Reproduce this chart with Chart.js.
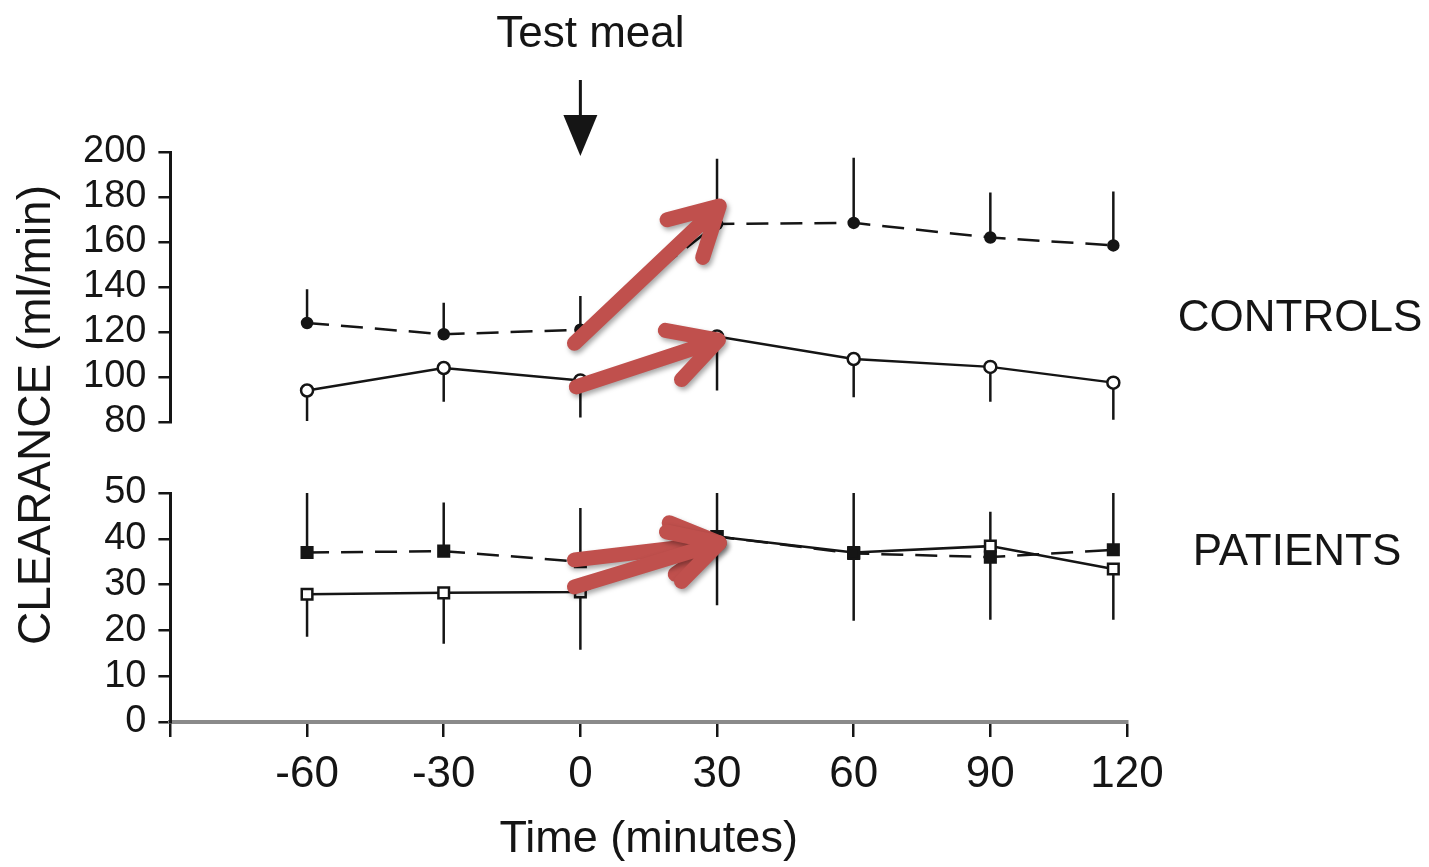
<!DOCTYPE html>
<html>
<head>
<meta charset="utf-8">
<title>Clearance after test meal</title>
<script src="https://cdn.jsdelivr.net/npm/chart.js@4.4.1/dist/chart.umd.min.js"></script>
<style>
  html, body { margin: 0; padding: 0; background: #fff; }
  #wrap { width: 1429px; height: 867px; position: relative; }
</style>
</head>
<body>
<div id="wrap"><canvas id="grafico"></canvas></div>
<script>
// sampling times, minutes relative to the test meal
const times = [-60, -30, 0, 30, 60, 90, 117];
const xTicks = [-90, -60, -30, 0, 30, 60, 90, 120];
const topTicks = [80, 100, 120, 140, 160, 180, 200];
const bottomTicks = [0, 10, 20, 30, 40, 50];

// controls, ml/min (mean and one-sided SD)
const controlsFilled = [124, 119, 121, 168, 168.5, 162, 158.5];
const controlsFilledSD = [15, 14, 15, 29, 29, 20, 24];
const controlsOpen = [94, 104, 98.5, 118, 108, 104.5, 97.5];
const controlsOpenSD = [13.5, 15, 16.5, 24, 17, 15.5, 16.5];

// patients, ml/min
const patientsFilled = [37, 37.3, 35, 40.5, 36.8, 36, 37.6];
const patientsFilledSD = [13, 10.6, 11.7, 9.5, 13.2, 9.9, 12.7];
const patientsOpen = [27.9, 28.2, 28.4, 40.5, 37, 38.4, 33.4];
const patientsOpenSD = [9.3, 11.1, 12.6, 15, 14.9, 16.1, 11.1];

// red arrows pasted over the figure: from (x, y) to (x, y), on which panel
const arrowFrom = [[-1.3, 115], [-0.9, 95.6], [-1.3, 35.4], [-1.3, 29.5]];
const arrowTo = [[30.5, 176], [30.3, 116.4], [30.5, 39.1], [30.5, 39.1]];
const arrowAxis = ['yTop', 'yTop', 'yBot', 'yBot'];

const ink = '#151515';
const font = "'Liberation Sans', Arial, sans-serif";

function points(values) {
  return values.map((v, i) => ({x: times[i], y: v}));
}

// one vertical segment per time point, separated by nulls
function errorBars(values, sd, dir) {
  const out = [];
  values.forEach((v, i) => {
    out.push({x: times[i], y: v}, {x: times[i], y: v + dir * sd[i]}, {x: times[i], y: null});
  });
  return out;
}

function errorSet(values, sd, dir, axis) {
  return {
    data: errorBars(values, sd, dir),
    yAxisID: axis,
    borderColor: ink,
    borderWidth: 2.5,
    pointRadius: 0,
    spanGaps: false
  };
}

function drawArrow(ctx, x0, y0, x1, y1) {
  const ang = Math.atan2(y1 - y0, x1 - x0);
  const head = 54, spread = 0.5;
  ctx.beginPath();
  ctx.moveTo(x0, y0);
  ctx.lineTo(x1, y1);
  ctx.moveTo(x1 - head * Math.cos(ang - spread), y1 - head * Math.sin(ang - spread));
  ctx.lineTo(x1, y1);
  ctx.lineTo(x1 - head * Math.cos(ang + spread), y1 - head * Math.sin(ang + spread));
  ctx.stroke();
}

const extras = {
  id: 'extras',
  afterDraw(chart) {
    const {ctx, scales} = chart;
    const x = scales.x;
    ctx.save();

    ctx.fillStyle = ink;
    ctx.textAlign = 'center';
    ctx.textBaseline = 'middle';
    ctx.font = '44px ' + font;
    ctx.fillText('Test meal', x.getPixelForValue(0) + 10, 35);
    ctx.fillText('CONTROLS', 1300, scales.yTop.getPixelForValue(126));
    ctx.fillText('PATIENTS', 1297, scales.yBot.getPixelForValue(37));

    // black arrow pointing at the meal time
    const mx = x.getPixelForValue(0);
    ctx.strokeStyle = ink;
    ctx.lineWidth = 3;
    ctx.beginPath();
    ctx.moveTo(mx, 80);
    ctx.lineTo(mx, 120);
    ctx.stroke();
    ctx.beginPath();
    ctx.moveTo(mx - 17, 115);
    ctx.lineTo(mx + 17, 115);
    ctx.lineTo(mx, 156);
    ctx.closePath();
    ctx.fill();

    // y title spanning both panels
    ctx.save();
    ctx.translate(37, 415);
    ctx.rotate(-Math.PI / 2);
    ctx.font = '46px ' + font;
    ctx.fillText('CLEARANCE (ml/min)', 0, 0);
    ctx.restore();

    // red arrows
    ctx.strokeStyle = '#C0504D';
    ctx.lineWidth = 15;
    ctx.lineCap = 'round';
    ctx.lineJoin = 'round';
    ctx.shadowColor = 'rgba(0,0,0,0.35)';
    ctx.shadowBlur = 5;
    ctx.shadowOffsetX = 2;
    ctx.shadowOffsetY = 3;
    arrowFrom.forEach((a, i) => {
      const ys = scales[arrowAxis[i]];
      drawArrow(ctx, x.getPixelForValue(a[0]), ys.getPixelForValue(a[1]),
        x.getPixelForValue(arrowTo[i][0]), ys.getPixelForValue(arrowTo[i][1]));
    });
    ctx.restore();
  }
};

function yScale(min, max, ticks, weight) {
  return {
    type: 'linear',
    position: 'left',
    stack: 'panels',
    stackWeight: weight,
    min: min,
    max: max,
    afterBuildTicks: s => { s.ticks = ticks.map(v => ({value: v})); },
    border: {display: true, color: ink, width: 3},
    grid: {drawOnChartArea: false, drawTicks: true, tickLength: 12, color: ink, lineWidth: 2.5},
    ticks: {color: ink, font: {family: font, size: 38, lineHeight: 1}, padding: 12, autoSkip: false}
  };
}

Chart.defaults.font.family = font;

const miCanvas = document.getElementById('grafico').getContext('2d');

const myChart = new Chart(miCanvas, {
  type: 'line',
  data: {
    datasets: [
      {
        data: points(controlsFilled), yAxisID: 'yTop',
        borderColor: ink, borderWidth: 2.5, borderDash: [22, 12],
        pointStyle: 'circle', pointRadius: 5, pointBackgroundColor: ink, pointBorderColor: ink
      },
      {
        data: points(controlsOpen), yAxisID: 'yTop',
        borderColor: ink, borderWidth: 2.5,
        pointStyle: 'circle', pointRadius: 6, pointBackgroundColor: '#fff', pointBorderColor: ink, pointBorderWidth: 2.5
      },
      {
        data: points(patientsFilled), yAxisID: 'yBot',
        borderColor: ink, borderWidth: 2.5, borderDash: [22, 12],
        pointStyle: 'rect', pointRadius: 7.5, pointBackgroundColor: ink, pointBorderColor: ink
      },
      {
        data: points(patientsOpen), yAxisID: 'yBot',
        borderColor: ink, borderWidth: 2.5,
        pointStyle: 'rect', pointRadius: 7.5, pointBackgroundColor: '#fff', pointBorderColor: ink, pointBorderWidth: 2.5
      },
      errorSet(controlsFilled, controlsFilledSD, 1, 'yTop'),
      errorSet(controlsOpen, controlsOpenSD, -1, 'yTop'),
      errorSet(patientsFilled, patientsFilledSD, 1, 'yBot'),
      errorSet(patientsOpen, patientsOpenSD, -1, 'yBot')
    ]
  },
  options: {
    responsive: true,
    maintainAspectRatio: false,
    animation: false,
    layout: {padding: {left: 71, right: 302, top: 152, bottom: 5}},
    plugins: {legend: {display: false}, tooltip: {enabled: false}},
    elements: {line: {tension: 0}},
    scales: {
      x: {
        type: 'linear',
        position: 'bottom',
        min: -90,
        max: 120,
        afterBuildTicks: s => { s.ticks = xTicks.map(v => ({value: v})); },
        border: {display: true, color: '#8a8a8a', width: 4},
        grid: {drawOnChartArea: false, drawTicks: true, tickLength: 15, color: ink, lineWidth: 2.5},
        ticks: {
          color: ink, font: {size: 44, lineHeight: 1}, padding: 16, maxRotation: 0, autoSkip: false,
          callback: v => (v === -90 ? '' : v)
        },
        title: {display: true, text: 'Time (minutes)', color: ink, font: {size: 45, lineHeight: 1}, padding: {top: 4, bottom: 0}}
      },
      yBot: yScale(0, 50, bottomTicks, 229),
      yGap: {
        type: 'linear', position: 'left', stack: 'panels', stackWeight: 71,
        min: 0, max: 1,
        border: {display: false}, grid: {display: false}, ticks: {display: false}
      },
      yTop: yScale(80, 200, topTicks, 270)
    }
  },
  plugins: [extras]
});
</script>
</body>
</html>
